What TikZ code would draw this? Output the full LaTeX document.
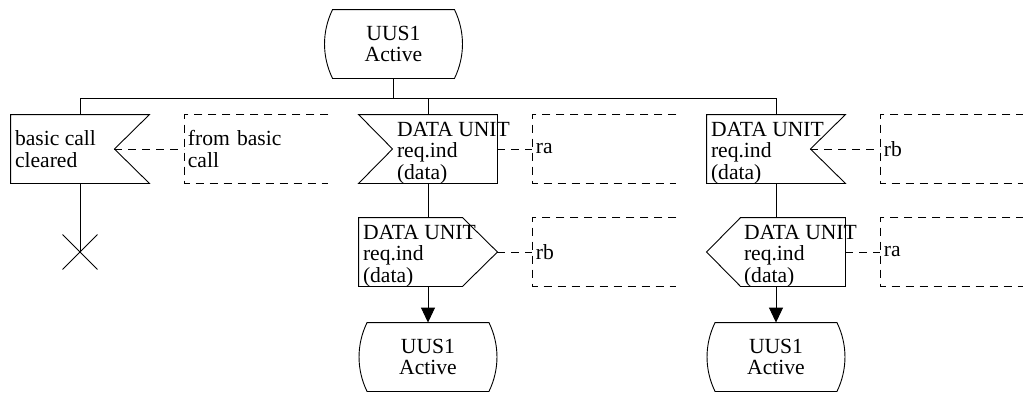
\documentclass[tikz,border=0pt]{standalone}
\usepackage{fontspec}
\setmainfont{Liberation Serif}
\usetikzlibrary{arrows.meta,positioning,shapes.misc}

\begin{document}
\begin{tikzpicture}[x=1pt, y=-1pt, line width=0.9pt,
  every node/.style={font=\fontsize{21.6}{21.5}\selectfont, inner sep=0pt},
  sym/.style={rectangle, minimum width=138pt, minimum height=68pt},
  sdlstate/.style={sym, minimum width=137pt, align=center},
  txt/.style={anchor=west, align=left},
  note/.style={rectangle, minimum width=143pt, minimum height=68pt,
               text width=137pt, align=left},
  dsh/.style={dash pattern=on 8pt off 6pt},
  arrow/.style={-{Triangle[length=15pt, width=14pt]}}
]
  \useasboundingbox (0,0) rectangle (1023,392);

  % states
  \node[sdlstate] (s0) at (393.5,44) {UUS1\\Active};
  \node[sdlstate] (s1) at (428,357) {UUS1\\Active};
  \node[sdlstate] (s2) at (776,357) {UUS1\\Active};

  % signal symbols
  \node[sym] (in1) at (80,149) {};
  \node[sym] (in2) at (428,149) {};
  \node[sym] (in3) at (776,149) {};
  \node[sym] (out1) at (428,252) {};
  \node[sym] (out2) at (776,252) {};
  \node[draw, cross out, minimum size=34pt] (stop) at (80,252) {};

  \node[txt, right=4pt of in1.west] (in1t) {basic call\\cleared};
  \node[txt, right=38pt of in2.west, yshift=-4pt] (in2t) {DATA UNIT\\req.ind\\(data)};
  \node[txt, right=4pt of in3.west, yshift=-4pt] (in3t) {DATA UNIT\\req.ind\\(data)};
  \node[txt, right=4pt of out1.west, yshift=-4pt] (out1t) {DATA UNIT\\req.ind\\(data)};
  \node[txt, right=37pt of out2.west, yshift=-4pt] (out2t) {DATA UNIT\\req.ind\\(data)};

  % comments
  \node[note, right=35pt of in1] (n1) {from basic\\call};
  \node[note, right=35pt of in2] (n2) {ra};
  \node[note, right=35pt of in3] (n3) {rb};
  \node[note, right=35pt of out1] (n4) {rb};
  \node[note, right=35pt of out2] (n5) {ra};

  \coordinate (in1n) at ([xshift=-35pt]in1.east);
  \coordinate (in2n) at ([xshift=34pt]in2.west);
  \coordinate (in3n) at ([xshift=-35pt]in3.east);

  % outlines
  \draw (in1.north west) -- (in1.north east) -- (in1n) -- (in1.south east) -- (in1.south west) -- cycle;
  \draw (in2.north west) -- (in2.north east) -- (in2.south east) -- (in2.south west) -- (in2n) -- cycle;
  \draw (in3.north west) -- (in3.north east) -- (in3n) -- (in3.south east) -- (in3.south west) -- cycle;
  \draw (out1.north west) -- ([xshift=-35pt]out1.north east) -- (out1.east)
        -- ([xshift=-35pt]out1.south east) -- (out1.south west) -- cycle;
  \draw (out2.west) -- ([xshift=34pt]out2.north west) -- (out2.north east)
        -- (out2.south east) -- ([xshift=34pt]out2.south west) -- cycle;
  \foreach \s in {s0,s1,s2}
    \draw ([xshift=8pt]\s.north west) -- ([xshift=-8pt]\s.north east)
      .. controls ([xshift=2.7pt,yshift=-22pt]\s.north east) and ([xshift=2.7pt,yshift=22pt]\s.south east)
      .. ([xshift=-8pt]\s.south east) -- ([xshift=8pt]\s.south west)
      .. controls ([xshift=-2.7pt,yshift=22pt]\s.south west) and ([xshift=-2.7pt,yshift=-22pt]\s.north west)
      .. ([xshift=8pt]\s.north west) -- cycle;
  \foreach \n in {n1,n2,n3,n4,n5}
    \draw[dsh] (\n.north east) -- (\n.north west) -- (\n.south west) -- (\n.south east);

  % connectors
  \coordinate (bus) at ([yshift=-20pt]s0.south);
  \draw (s0.south) -- (bus);
  \draw (in1.north) |- (bus) -| (in3.north);
  \draw (in2.north) -- (in2.north |- bus);
  \draw (in1.south) -- (stop.center);
  \draw (in2.south) -- (out1.north);
  \draw (in3.south) -- (out2.north);
  \draw[arrow] (out1.south) -- (s1.north);
  \draw[arrow] (out2.south) -- (s2.north);

  \draw[dsh] (in1n) -- (n1.west);
  \draw[dsh] (in2.east) -- (n2.west);
  \draw[dsh] (in3n) -- (n3.west);
  \draw[dsh] (out1.east) -- (n4.west);
  \draw[dsh] (out2.east) -- (n5.west);
\end{tikzpicture}
\end{document}
